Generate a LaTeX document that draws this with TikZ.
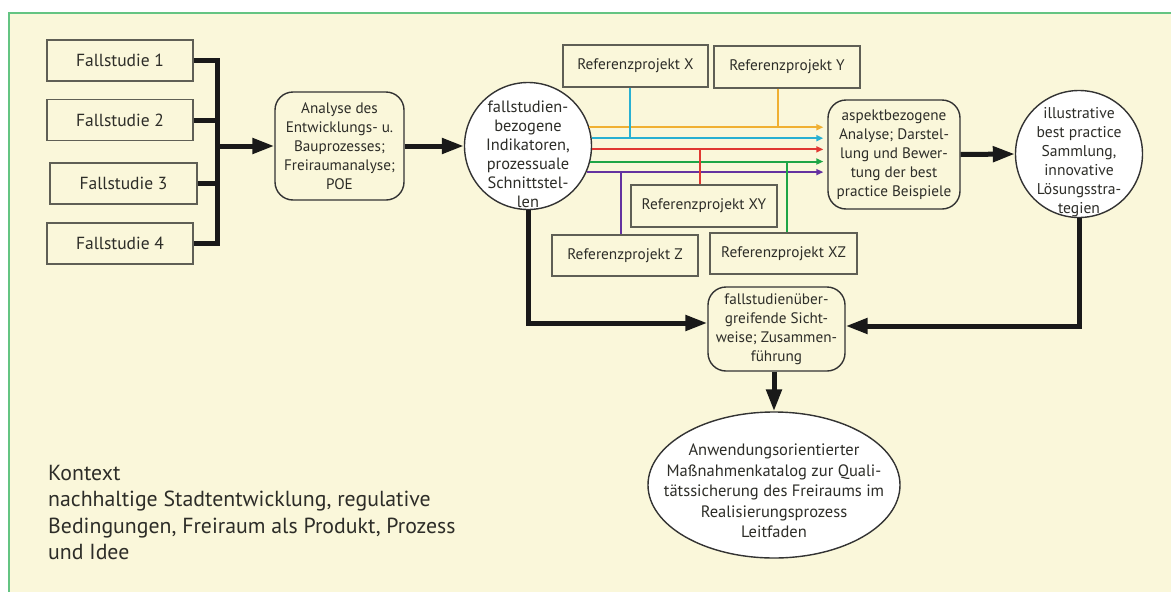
\documentclass[tikz,border=0pt]{standalone}
\usepackage{fontspec}
\setmainfont{PT Sans}
\usetikzlibrary{arrows.meta,shapes.geometric,calc}
\definecolor{bg}{RGB}{250,247,218}
\definecolor{framegreen}{RGB}{100,196,130}
\definecolor{txt}{RGB}{45,45,40}
\definecolor{boxgray}{RGB}{95,95,85}
\definecolor{cOr}{RGB}{240,176,50}
\definecolor{cCy}{RGB}{40,176,210}
\definecolor{cRd}{RGB}{224,56,50}
\definecolor{cGn}{RGB}{30,165,70}
\definecolor{cPu}{RGB}{100,50,160}
\begin{document}
\begin{tikzpicture}[x=1pt,y=-1pt,
  txtfont/.style={font=\fontsize{15.2}{19}\selectfont, text=txt},
  fsbox/.style={draw=boxgray, line width=1.4pt, minimum width=146pt, minimum height=41pt, font=\fontsize{17.5}{20}\selectfont, text=txt, inner sep=0pt},
  refbox/.style={draw=boxgray, line width=1.3pt, minimum width=146pt, minimum height=42pt, font=\fontsize{15.3}{18}\selectfont, text=txt, inner sep=0pt},
  rbox/.style={draw=black!80, line width=1.4pt, rounded corners=18pt, align=center, txtfont, inner sep=0pt, fill=bg},
  circ/.style={circle, draw=black!80, line width=1.4pt, fill=white, inner sep=0pt},
  thk/.style={line width=5pt, black!90, line join=miter},
  arr/.style={-{Triangle[length=22pt,width=15pt]}},
  col/.style={line width=2pt},
  carr/.style={-{Triangle[length=7pt,width=6pt]}, shorten >=4pt},
]
\useasboundingbox (0,0) rectangle (1171,592);
\fill[white] (0,0) rectangle (1171,592);
\fill[bg] (9,13) rectangle (1171,592);
\draw[framegreen, line width=2pt] (9,592) -- (9,13) -- (1171,13);

% Fallstudien
\node[fsbox] (fs1) at (120,60.5) {Fallstudie 1};
\node[fsbox] (fs2) at (120,120) {Fallstudie 2};
\node[fsbox, minimum width=147pt] (fs3) at (123.5,183.5) {Fallstudie 3};
\node[fsbox] (fs4) at (120,243.5) {Fallstudie 4};

% Analyse
\node[rbox, minimum width=129pt, minimum height=108pt] (ana) at (339.5,146)
  {Analyse des\\Entwicklungs- u.\\Bauprozesses;\\Freiraumanalyse;\\POE};

% bus
\coordinate (b1) at (217,60.5);
\coordinate (b4) at (217,243.5);
\coordinate (bm) at (217,146);
\draw[thk] (fs1.east) -- (b1) -- (b4) -- (fs4.east);
\draw[thk] (fs2.east) -- (fs2.east -| b1);
\draw[thk] (fs3.east) -- (fs3.east -| b1);
\draw[thk,arr] (bm) -- (ana.west);

% circle 1
\node[circ, minimum size=127pt,
  label={[font=\fontsize{16.4}{19}\selectfont, text=txt, align=center, yshift=-8pt]center:{fallstudien-\\bezogene\\Indikatoren,\\prozessuale\\Schnittstel-\\len}}] (c1) at (528,146) {};
\draw[thk,arr] (ana.east) -- (c1.west);

% Referenzprojekte
\node[refbox, minimum width=145pt] (rX) at (635.5,66) {Referenzprojekt X};
\node[refbox] (rY) at (787,67) {Referenzprojekt Y};
\node[refbox] (rXY) at (704,206) {Referenzprojekt XY};
\node[refbox, minimum height=41pt] (rZ) at (625,255.5) {Referenzprojekt Z};
\node[refbox, minimum width=147pt, minimum height=41pt] (rXZ) at (783.5,253.5) {Referenzprojekt XZ};

% aspekt box
\node[rbox, minimum width=132pt, minimum height=109pt] (asp) at (894,154.5)
  {aspektbezogene\\Analyse; Darstel-\\lung und Bewer-\\tung der best\\practice Beispiele};

% coloured lines
\draw[col,cOr,carr] (c1.17.3) -- (c1.17.3 -| asp.west);
\draw[col,cCy,carr] (c1.7.6) -- (c1.7.6 -| asp.west);
\draw[col,cRd,carr] (c1.-3.6) -- (c1.-3.6 -| asp.west);
\draw[col,cGn,carr] (c1.-14.9) -- (c1.-14.9 -| asp.west);
\draw[col,cPu,carr] (c1.-24.5) -- (c1.-24.5 -| asp.west);

\draw[col,cCy] ([xshift=-5.5pt]rX.south) -- ([xshift=-5.5pt]rX.south |- c1.7.6);
\draw[col,cOr] ([xshift=-9pt]rY.south) -- ([xshift=-9pt]rY.south |- c1.17.3);
\draw[col,cRd] ([xshift=-4pt]rXY.north) -- ([xshift=-4pt]rXY.north |- c1.-3.6);
\draw[col,cGn] ([xshift=3.5pt]rXZ.north) -- ([xshift=3.5pt]rXZ.north |- c1.-14.9);
\draw[col,cPu] ([xshift=-4pt]rZ.north) -- ([xshift=-4pt]rZ.north |- c1.-24.5);

% circle 2
\node[circ, minimum size=127pt,
  label={[font=\fontsize{15.6}{19}\selectfont, text=txt, align=center, yshift=-8pt]center:{illustrative\\best practice\\Sammlung,\\innovative\\Lösungsstra-\\tegien}}] (c2) at (1079,154) {};
\draw[thk,arr] (asp.east) -- (c2.west);

% fallstudienuebergreifend
\node[rbox, minimum width=137pt, minimum height=84pt] (fb) at (776.5,329)
  {fallstudienüber-\\greifende Sicht-\\weise; Zusammen-\\führung};
\draw[thk,arr] (c1.south) |- ([yshift=6pt]fb.west);
\draw[thk,arr] (c2.south) |- ([yshift=3pt]fb.east);

% ellipse
\node[ellipse, draw=black!80, line width=1.4pt, fill=white, inner sep=0pt,
  minimum width=252pt, minimum height=146pt,
  label={[font=\fontsize{16.5}{20.5}\selectfont, text=txt, align=center, yshift=-6pt]center:{Anwendungsorientierter\\Maßnahmenkatalog zur Quali-\\tätssicherung des Freiraums im\\Realisierungsprozess\\Leitfaden}}] (ell) at (774,485) {};
\draw[thk,arr] (fb.south -| ell.north) -- (ell.north);

% Kontext
\node[anchor=north west, align=left, font=\fontsize{21.8}{26.3}\selectfont, text=txt, inner sep=0pt] (ktx) at (48,465)
  {Kontext\\nachhaltige Stadtentwicklung, regulative\\Bedingungen, Freiraum als Produkt, Prozess\\und Idee};
\end{tikzpicture}
\end{document}
